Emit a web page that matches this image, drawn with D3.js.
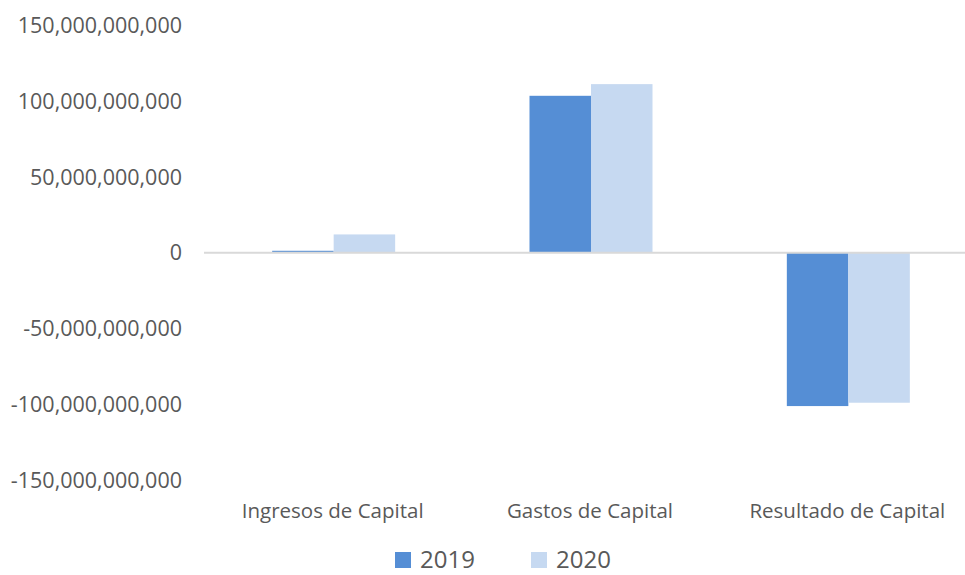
<!DOCTYPE html>
<html>
<head>
<meta charset="utf-8">
<script src="https://cdn.jsdelivr.net/npm/d3@7"></script>
<style>
  body { margin: 0; background: #fff; }
  svg text { font-family: "Open Sans", sans-serif; fill: #595959; }
</style>
</head>
<body>
<div id="viz"></div>
<script>
let categories = ["Ingresos de Capital", "Gastos de Capital", "Resultado de Capital"];
let series = ["2019", "2020"];
let values2019 = [1.3e9, 103.6e9, -101.2e9];
let values2020 = [12.1e9, 111.3e9, -99.0e9];
let tickValues = [150e9, 100e9, 50e9, 0, -50e9, -100e9, -150e9];
let colors = ["#558ed5", "#c6d9f1"];

let width = 965, height = 575;

let svg = d3.select("#viz")
    .append("svg")
    .attr("width", width)
    .attr("height", height);

let y = d3.scaleLinear()
    .domain([-150e9, 150e9])
    .range([480, 25.5]);

let x = d3.scaleBand()
    .domain(categories)
    .range([205, 977]);

let x1 = d3.scaleBand()
    .domain(series)
    .range([0, 123])

// excel style number: plain hyphen for negatives
let fmt = d => d3.format(",")(d).replace("\u2212", "-");

// y tick labels
svg.selectAll(".ytick")
    .data(tickValues)
    .enter()
    .append("text")
    .attr("x", 182)
    .attr("y", d => y(d))
    .attr("dy", "0.35em")
    .style("text-anchor", "end")
    .style("font-size", "21.5px")
    .text(d => fmt(d));

// bars
let rows = [];
categories.forEach((c, i) => {
    rows.push({cat: c, s: "2019", v: values2019[i]});
    rows.push({cat: c, s: "2020", v: values2020[i]});
});

svg.selectAll(".bar")
    .data(rows)
    .enter()
    .append("rect")
    .attr("x", d => x(d.cat) + x.bandwidth() / 2 - 61.5 + x1(d.s))
    .attr("width", x1.bandwidth())
    .attr("y", d => y(Math.max(0, d.v)))
    .attr("height", d => Math.abs(y(d.v) - y(0)))
    .attr("fill", (d, i) => colors[series.indexOf(d.s)]);

// zero line
svg.append("line")
    .attr("x1", 204).attr("x2", 965)
    .attr("y1", y(0)).attr("y2", y(0))
    .attr("stroke", "#d9d9d9")
    .attr("stroke-width", 2);

// category labels
svg.selectAll(".cat")
    .data(categories)
    .enter()
    .append("text")
    .attr("x", d => x(d) + x.bandwidth() / 2 - 1)
    .attr("y", 511)
    .attr("dy", "0.35em")
    .style("text-anchor", "middle")
    .style("font-size", "20.5px")
    .text(d => d);

// legend (kept just inside the bottom edge)
let legendX = [395, 531];
let legend = svg.selectAll(".legend")
    .data(series)
    .enter()
    .append("g")
    .attr("transform", (d, i) => "translate(" + legendX[i] + ",552)");

legend.append("rect")
    .attr("width", 16).attr("height", 16)
    .attr("fill", (d, i) => colors[i]);

legend.append("text")
    .attr("x", 25)
    .attr("y", 8)
    .attr("dy", "0.35em")
    .style("font-size", "24px")
    .text(d => d);
</script>
</body>
</html>
